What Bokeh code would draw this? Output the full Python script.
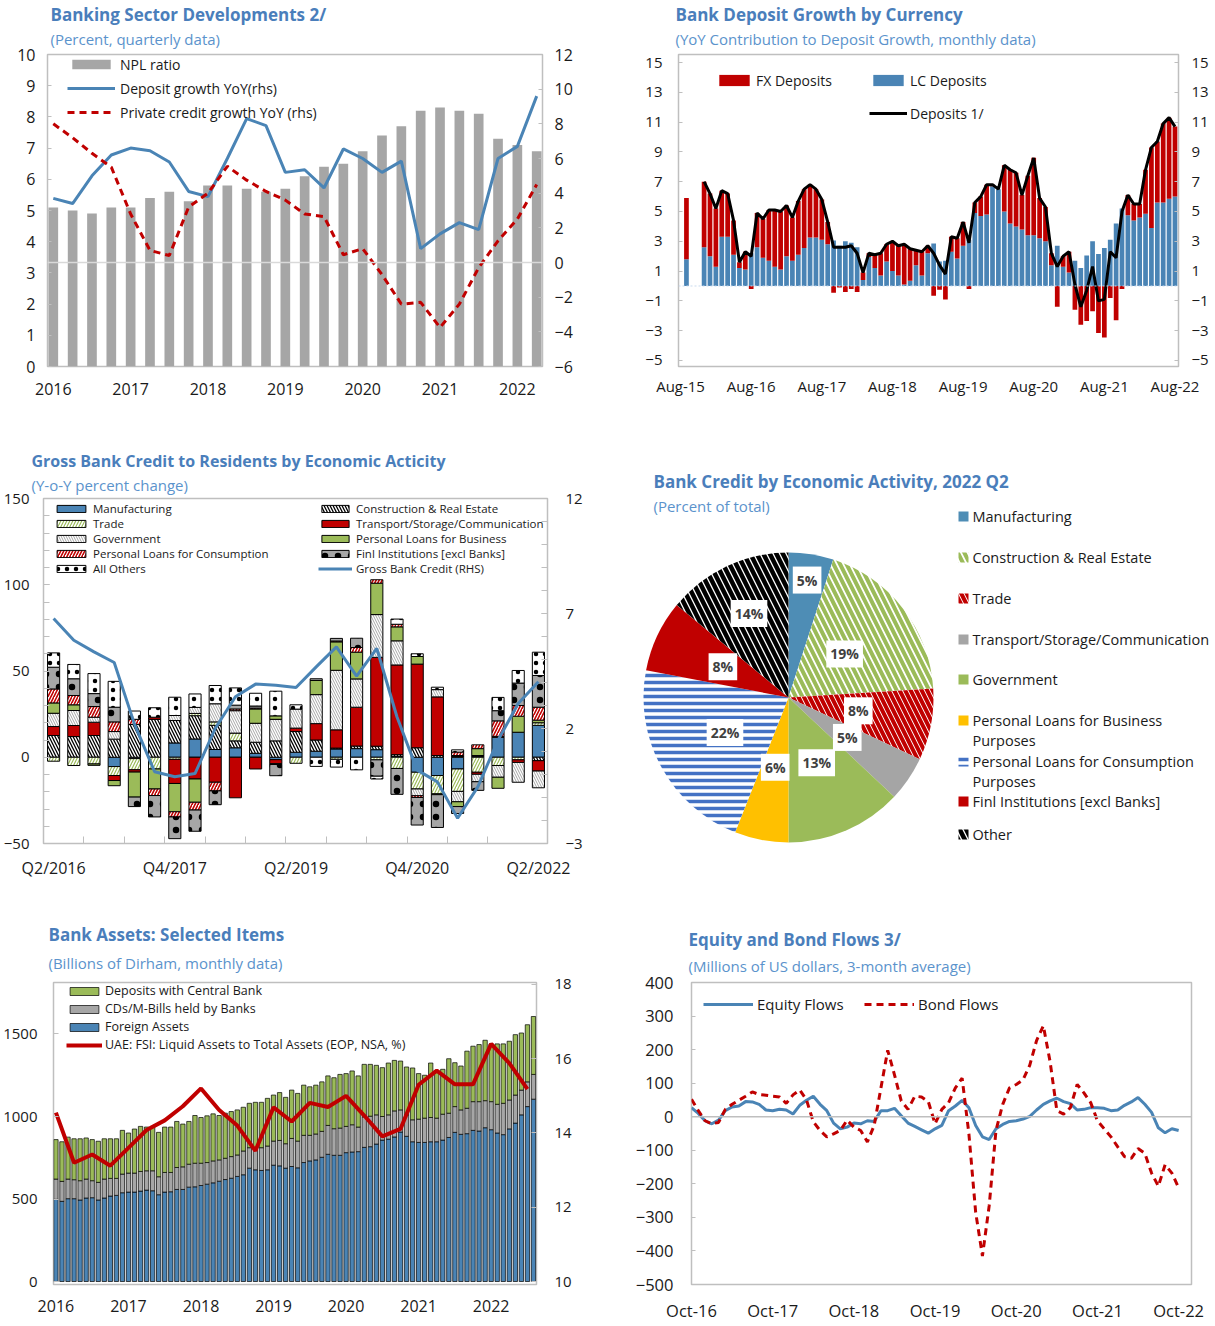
import math
import numpy as np
from bokeh.plotting import figure
from bokeh.layouts import row
from bokeh.models import Range1d, LinearAxis, FixedTicker, Legend, LegendItem, Title, Span
from bokeh.core.properties import value
from bokeh.embed import file_html
from bokeh.resources import INLINE

nan = float("nan")
FONT = "Open Sans"
TITLE_C = "#4A7EBB"
SUB_C = "#5B93CC"
TXT = "#1A1A1A"
BLUE = "#4A84B5"
RED = "#C00000"
GRAY = "#A6A6A6"
GREEN = "#9BBB59"
FRAME = "#BFBFBF"

# ---------------- DATA ----------------
# Panel 1: Banking Sector Developments (quarterly 2016Q1-2022Q2)
p1_years = ["2016", "2017", "2018", "2019", "2020", "2021", "2022"]
npl_ratio = [5.1, 5.0, 4.9, 5.1, 5.1, 5.4, 5.6, 5.3, 5.8, 5.8, 5.7, 5.6, 5.7,
             6.1, 6.4, 6.5, 6.9, 7.4, 7.7, 8.2, 8.3, 8.2, 8.1, 7.3, 7.1, 6.9]
deposit_growth_yoy = [3.7, 3.4, 5.0, 6.2, 6.6, 6.45, 5.8, 4.1, 3.8, 6.0, 8.3, 7.9, 5.2,
                      5.35, 4.3, 6.55, 6.0, 5.2, 5.85, 0.8, 1.65, 2.3, 1.9, 6.0, 6.7, 9.6]
private_credit_yoy = [8.0, 7.2, 6.3, 5.5, 2.8, 0.7, 0.4, 3.2, 4.0, 5.55, 4.75, 4.1, 3.6,
                      2.8, 2.65, 0.45, 0.8, -0.7, -2.4, -2.3, -3.75, -2.4, -0.3, 1.25, 2.5, 4.5]

# Panel 2: Bank deposit growth by currency (monthly, Sep-15 .. Aug-22)
p2_tick_labels = ["Aug-15", "Aug-16", "Aug-17", "Aug-18", "Aug-19", "Aug-20", "Aug-21", "Aug-22"]
lc_deposits = [1.8, nan, nan,
               2.6, 2.0, 1.3, 3.3, 3.3, 2.1, 1.2, 1.1, 2.2, 2.6,
               1.9, 1.7, 1.3, 1.1, 2.0, 1.7, 2.1, 2.55, 3.25, 3.25,
               3.1, 2.8, 3.05, 2.7, 3.0, 2.9, 2.6, 0.4, 1.95, 1.2,
               0.7, 1.65, 1.0, 0.7, 0.1, 0.35, 1.4, 0.7, 2.2, 2.85,
               1.65, 1.7, 2.3, 1.85, 2.7, 3.1, 4.9, 4.7, 4.8, 6.7,
               6.5, 5.0, 4.2, 4.0, 3.8, 3.4, 3.4, 3.2, 3.0, 1.4,
               2.7, 1.3, 0.9, 1.7, 1.2, 2.05, 3.0, 2.15, 2.55, 3.1,
               4.2, 5.2, 4.75, 4.4, 4.6, 4.85, 3.9, 5.6, 5.6, 5.85,
               6.0]
fx_deposits = [4.1, nan, nan,
               4.4, 4.2, 3.9, 3.1, 2.9, 2.3, 0.4, 1.2, -0.2, 2.3,
               2.6, 3.4, 3.8, 3.9, 3.4, 2.9, 3.6, 3.95, 3.55, 3.25,
               2.7, 1.5, -0.45, -0.1, -0.4, -0.2, -0.4, 0.5, 0.25, 0.9,
               1.5, 1.15, 2.0, 2.0, 2.7, 2.15, 1.0, 1.6, 0.5, -0.65,
               -0.25, -0.9, 1.0, 1.35, 1.6, -0.2, 0.7, 1.3, 2.0, 0.1,
               0.0, 3.1, 3.6, 3.6, 2.3, 4.0, 5.2, 2.7, 2.3, 0.8,
               -1.4, 0.7, 1.4, -1.6, -2.6, -2.35, -1.7, -3.15, -3.45, -0.8,
               -2.3, -0.2, 1.35, 1.1, 0.9, 2.95, 5.4, 4.1, 5.3, 5.45,
               4.7]
deposits_total = [nan, nan, nan,
                  7.0, 6.2, 5.2, 6.4, 6.2, 4.4, 1.6, 2.3, 2.0, 4.9,
                  4.5, 5.1, 5.1, 5.0, 5.4, 4.6, 5.7, 6.5, 6.8, 6.5,
                  5.8, 4.3, 2.6, 2.6, 2.6, 2.7, 2.2, 0.9, 2.2, 2.1,
                  2.2, 2.8, 3.0, 2.7, 2.8, 2.5, 2.4, 2.3, 2.7, 2.2,
                  1.4, 0.8, 3.3, 3.2, 4.3, 2.9, 5.6, 6.0, 6.8, 6.8,
                  6.5, 8.1, 7.8, 7.6, 6.1, 7.4, 8.6, 5.9, 5.3, 2.2,
                  1.3, 2.0, 2.3, 0.1, -1.4, -0.3, 1.3, -1.0, -0.9, 2.3,
                  1.9, 5.0, 6.1, 5.5, 5.5, 7.8, 9.3, 9.7, 10.9, 11.3,
                  10.7]

# Panel 3: Gross bank credit by economic activity (Q2/2016 .. Q2/2022)
p3_tick_labels = ["Q2/2016", "Q4/2017", "Q2/2019", "Q4/2020", "Q2/2022"]
c_manufacturing = [0, 0, 0, -5.4, -0.8, 0, 8.3, 10.6, 4.5, 5.5, 2.3, -1.4, 2.9,
                   3.5, 4.8, 5.0, 4.4, 0.5, -8.7, -10.6, -6.8, 0.5, 11.6, 14.5, 18.5]
c_construction = [12.6, 12.0, 12.6, 10.5, 19.0, 22.0, 13.0, 13.5, 14.0, 4.0, 6.4, 9.5, 12.0,
                  6.5, 0.5, 1.5, 2.0, 1.0, 5.5, 1.0, 0.5, 0.5, 0, 0, -2.0]
c_trade = [-2.3, -4.8, -3.9, -5.2, -6.5, -6.8, -1.2, 1.3, 2.0, 4.5, 0, 0, -3.5,
           0, -1.2, 0, -1.5, -6.5, -9.7, -10.6, -13.0, -8.7, -4.8, -1.5, 1.5]
c_transport = [5.2, 6.4, 7.7, -2.9, -1.3, 1.2, -14.0, -12.6, -14.5, -23.5, -6.8, -2.3, 2.0,
               9.5, 10.6, 22.5, 51.5, 52.0, 48.5, 34.0, 0.5, -1.2, 0.5, -1.5, -6.0]
c_government = [7.7, 8.7, 2.9, 4.4, 0, 0, 2.9, 3.5, 10.5, 13.0, 11.0, 12.5, 11.0,
                16.8, 34.5, 16.4, 24.8, 14.0, -3.9, 4.2, -6.0, -4.3, -6.8, -11.5, -9.7]
c_pl_business = [6.0, 3.3, -0.8, -3.0, -14.5, -11.6, -16.4, -13.5, 0, 0, 8.3, 2.0, 0,
                 8.2, 16.5, 15.5, 18.2, 8.1, 4.4, -0.5, -2.8, 4.0, -6.4, 9.3, 1.5]
c_pl_consumption = [8.1, 5.4, 6.2, 5.6, 3.0, -3.8, -3.0, -4.5, -5.0, 1.0, 0.5, -0.5, 0,
                    0, 0.5, 2.7, 2.0, 1.5, -1.0, 0, 2.0, 2.2, 9.0, 6.2, 7.5]
c_finl = [12.6, 9.7, 7.5, 8.5, -5.5, -12.4, -12.6, -12.3, -8.0, 2.2, 1.2, -6.5, 0,
          1.0, 1.5, 5.4, -9.5, -15.0, -16.0, -19.0, -4.0, -5.0, 5.9, 13.0, 18.4]
c_others = [8.3, 8.3, 11.6, 15.0, 4.8, 5.5, 10.6, 7.8, 10.6, 10.0, 7.4, 14.3, 2.5,
            -5.3, -4.5, -7.3, -1.6, 3.0, 1.6, 1.4, 1.3, 0, 7.7, 7.3, 13.5]
gross_bank_credit = [6.78, 5.84, 5.33, 4.87, 2.2, 0.12, -0.1, 0.04, 2.0, 3.38, 3.93, 3.88, 3.78,
                     4.68, 5.55, 4.28, 5.48, 2.5, 0.19, -0.32, -1.9, -0.54, 1.49, 3.09, 4.03]

# Panel 4: Bank credit by economic activity, 2022 Q2 (percent of total)
pie_labels = ["Manufacturing", "Construction & Real Estate", "Trade",
              "Transport/Storage/Communication", "Government",
              "Personal Loans for Business Purposes",
              "Personal Loans for Consumption Purposes",
              "Finl Institutions [excl Banks]", "Other"]
pie_values = [5, 19, 8, 5, 13, 6, 22, 8, 14]

# Panel 5: Bank assets (monthly Jan-16 .. Aug-22), liquid asset ratio (quarterly)
p5_years = ["2016", "2017", "2018", "2019", "2020", "2021", "2022"]
foreign_assets = [498, 486, 502, 502, 494, 506, 508, 494, 506, 518, 522, 538,
                  542, 542, 548, 554, 550, 526, 542, 544, 558, 558, 572, 574,
                  582, 590, 598, 608, 618, 626, 637, 647, 687, 677, 673, 677,
                  705, 701, 687, 697, 689, 721, 731, 737, 753, 771, 765, 765,
                  781, 785, 787, 813, 817, 833, 857, 863, 876, 906, 880, 847,
                  843, 843, 847, 847, 857, 873, 904, 892, 896, 916, 912, 932,
                  920, 900, 890, 925, 960, 1010, 1060, 1105]
cds_mbills = [123, 121, 119, 115, 117, 115, 103, 107, 115, 107, 103, 113,
              115, 115, 119, 117, 121, 109, 119, 117, 133, 137, 139, 143,
              135, 131, 133, 129, 129, 131, 130, 144, 124, 134, 138, 144,
              146, 154, 148, 170, 162, 165, 155, 157, 157, 175, 161, 165,
              159, 165, 149, 185, 185, 177, 143, 147, 158, 134, 130, 133,
              141, 147, 147, 143, 157, 147, 156, 148, 154, 174, 178, 164,
              170, 174, 190, 175, 170, 150, 150, 150]
deposits_cb = [239, 240, 254, 248, 254, 249, 249, 249, 244, 240, 240, 265,
               243, 267, 273, 265, 269, 269, 275, 275, 279, 259, 259, 289,
               277, 283, 285, 269, 273, 273, 273, 265, 269, 275, 275, 289,
               279, 290, 281, 293, 289, 304, 294, 296, 300, 300, 309, 325,
               320, 326, 310, 318, 314, 300, 296, 314, 306, 296, 290, 314,
               276, 260, 330, 276, 272, 330, 266, 266, 346, 336, 346, 366,
               350, 366, 360, 356, 366, 346, 346, 351]
liquid_assets_ratio = [14.55, 13.2, 13.42, 13.12, 13.6, 14.08, 14.34, 14.72, 15.2,
                       14.62, 14.2, 13.52, 14.69, 14.31, 14.81, 14.7, 15.0, 14.47,
                       13.91, 14.11, 15.3, 15.68, 15.31, 15.31, 16.4, 15.88, 15.18]

# Panel 6: Equity and bond flows (monthly Oct-16 .. Oct-22)
p6_tick_labels = ["Oct-16", "Oct-17", "Oct-18", "Oct-19", "Oct-20", "Oct-21", "Oct-22"]
equity_flows = [27, 10, -12, -21, -10, 18, 29, 32, 45, 44, 37, 20, 18, 22, 20, 8, 34, 49, 61,
                37, 18, -19, -36, -31, -19, -21, -12, -14, 18, 18, 25, 3, -19, -29, -39, -49,
                -36, -26, 18, 32, 49, 27, -26, -60, -68, -36, -23, -14, -12, -7, 1, 20, 37,
                47, 55, 45, 39, 20, 22, 27, 27, 25, 18, 20, 34, 44, 57, 37, 13, -33, -48, -36, -41]
bond_flows = [52, 18, -12, -21, -17, 22, 37, 49, 61, 74, 66, 64, 61, 59, 40, 65, 80, 50, -15,
              -41, -60, -51, -41, -10, -31, -41, -75, -26, 86, 198, 125, 47, 22, 61, 59, 45,
              -21, 22, 42, 86, 115, -51, -285, -415, -265, -41, 37, 86, 96, 110, 154, 227, 271,
              164, 18, 8, 27, 96, 71, 42, -12, -36, -60, -90, -119, -124, -95, -109, -168,
              -207, -143, -168, -212]


# ---------------- HELPERS ----------------
def base_fig(w, h, xr, yr, ml, mr, mt, mb):
    p = figure(width=w, height=h, x_range=xr, y_range=yr, output_backend="svg",
               toolbar_location=None, title_location=None, min_border_left=ml,
               min_border_right=mr, min_border_top=mt, min_border_bottom=mb)
    p.xgrid.visible = False
    p.ygrid.visible = False
    p.outline_line_color = FRAME
    p.outline_line_width = 1.5
    p.background_fill_color = "white"
    p.border_fill_color = "white"
    return p


def style_axis(ax, size, standoff, tick_in=0, minor_in=0):
    ax.axis_line_color = None
    ax.major_tick_in = tick_in
    ax.major_tick_out = 0
    ax.major_tick_line_color = FRAME if tick_in else None
    ax.minor_tick_in = minor_in
    ax.minor_tick_out = 0
    ax.minor_tick_line_color = FRAME if minor_in else None
    ax.major_label_text_font = FONT
    ax.major_label_text_font_size = size
    ax.major_label_text_color = TXT
    ax.major_label_standoff = standoff


def add_titles(p, title, subtitle, offset, st_sub, st_title, tfs="17px", sfs="15px"):
    p.add_layout(Title(text=subtitle, align="left", offset=offset, standoff=st_sub,
                       text_font=FONT, text_font_size=sfs, text_font_style="normal",
                       text_color=SUB_C), "above")
    p.add_layout(Title(text=title, align="left", offset=offset, standoff=st_title,
                       text_font=FONT, text_font_size=tfs, text_font_style="bold",
                       text_color=TITLE_C), "above")


def make_legend(items, loc, gw, gh, lh, spacing, fs, standoff=5):
    return Legend(items=items, location=loc, glyph_width=gw, glyph_height=gh,
                  label_height=lh, spacing=spacing, padding=0, margin=0,
                  border_line_color=None, background_fill_alpha=0,
                  label_text_font=FONT, label_text_font_size=fs,
                  label_text_color=TXT, label_standoff=standoff)


# ================= ROW 1 (frames 54..366) =================
x1 = np.arange(len(npl_ratio))
p1 = base_fig(608, 433, Range1d(-0.3, 25.3), Range1d(0, 10), 47, 66, 54, 67)
p1.extra_y_ranges = {"rhs": Range1d(-6, 12)}
r_npl = p1.vbar(x=x1, top=npl_ratio, width=0.5, fill_color=GRAY, line_color=None)
p1.add_layout(Span(location=0, dimension="width", y_range_name="rhs",
                   line_color="#D9D9D9", line_width=1.5))
r_dep = p1.line(x1, deposit_growth_yoy, y_range_name="rhs", line_color=BLUE, line_width=3)
r_pc = p1.line(x1, private_credit_yoy, y_range_name="rhs", line_color=RED, line_width=3,
               line_dash="7 5")
p1.yaxis.ticker = FixedTicker(ticks=list(range(0, 11)))
style_axis(p1.yaxis[0], "16px", 12, tick_in=4)
ax1r = LinearAxis(y_range_name="rhs", ticker=FixedTicker(ticks=list(range(-6, 13, 2))))
style_axis(ax1r, "16px", 12, tick_in=4)
p1.add_layout(ax1r, "right")
p1.xaxis.ticker = FixedTicker(ticks=[4 * i for i in range(len(p1_years))])
p1.xaxis.major_label_overrides = {4 * i: y for i, y in enumerate(p1_years)}
style_axis(p1.xaxis[0], "16px", 16)
add_titles(p1, "Banking Sector Developments 2/", "(Percent, quarterly data)", 3, 11, -8)
p1.add_layout(make_legend([LegendItem(label="NPL ratio", renderers=[r_npl]),
                           LegendItem(label="Deposit growth YoY(rhs)", renderers=[r_dep]),
                           LegendItem(label="Private credit growth YoY (rhs)", renderers=[r_pc])],
                          (20, 244), 48, 12, 20, 4, "14px"))

lc = np.array(lc_deposits, float)
fx = np.array(fx_deposits, float)
tot = np.array(deposits_total, float)
x2 = np.arange(1, 1 + len(lc))
ok = ~np.isnan(lc)
fx_bot = np.where(fx >= 0, lc, 0.0)
fx_top = fx_bot + fx
p2 = base_fig(605, 433, Range1d(-0.35, 84.6), Range1d(-5.403, 15.537), 70, 35, 54, 67)
p2.extra_y_ranges = {"rhs": Range1d(-5.403, 15.537)}
r_lc = p2.vbar(x=x2[ok], bottom=0, top=lc[ok], width=0.8, fill_color=BLUE, line_color=None)
r_fx = p2.vbar(x=x2[ok], bottom=fx_bot[ok], top=fx_top[ok], width=0.8, fill_color=RED,
               line_color=None)
p2.add_layout(Span(location=0, dimension="width", line_color="#C9DAEE", line_width=1,
                   line_dash="2 2"))
r_tot = p2.line(x2, tot, line_color="black", line_width=3)
p2.yaxis.ticker = FixedTicker(ticks=list(range(-5, 16, 2)))
style_axis(p2.yaxis[0], "15px", 16, tick_in=4)
ax2r = LinearAxis(y_range_name="rhs", ticker=FixedTicker(ticks=list(range(-5, 16, 2))))
style_axis(ax2r, "15px", 13, tick_in=4)
p2.add_layout(ax2r, "right")
p2.xaxis.ticker = FixedTicker(ticks=[12 * i for i in range(len(p2_tick_labels))])
p2.xaxis.major_label_overrides = {12 * i: s for i, s in enumerate(p2_tick_labels)}
style_axis(p2.xaxis[0], "15px", 9)
add_titles(p2, "Bank Deposit Growth by Currency",
           "(YoY Contribution to Deposit Growth, monthly data)", -3, 11, -8)
p2.add_layout(make_legend([LegendItem(label="FX Deposits", renderers=[r_fx])], (37, 276),
                          38, 14, 20, 0, "14px", 3))
p2.add_layout(make_legend([LegendItem(label="LC Deposits", renderers=[r_lc])], (191, 276),
                          38, 14, 20, 0, "14px", 3))
p2.add_layout(make_legend([LegendItem(label="Deposits 1/", renderers=[r_tot])], (191, 243),
                          38, 14, 20, 0, "14px", 3))

# ================= ROW 2 (frames 498..843) =================
x3 = np.arange(len(gross_bank_credit))
p3 = base_fig(608, 465, Range1d(-0.5, 24.45), Range1d(-50, 150), 42, 61, 65, 55)
p3.extra_y_ranges = {"rhs": Range1d(-3, 12)}
styles = {
    "Manufacturing": dict(fill_color=BLUE),
    "Construction & Real Estate": dict(fill_color="white", hatch_pattern="\\", hatch_color="black",
                                       hatch_scale=6, hatch_weight=1.3),
    "Trade": dict(fill_color="white", hatch_pattern="/", hatch_color=GREEN, hatch_scale=6,
                  hatch_weight=1.2),
    "Transport/Storage/Communication": dict(fill_color=RED),
    "Government": dict(fill_color="white", hatch_pattern="\\", hatch_color=GRAY, hatch_scale=5,
                       hatch_weight=1),
    "Personal Loans for Business": dict(fill_color=GREEN),
    "Personal Loans for Consumption": dict(fill_color="white", hatch_pattern="/", hatch_color=RED,
                                           hatch_scale=6, hatch_weight=1.6),
    "Finl Institutions [excl Banks]": dict(fill_color=GRAY, hatch_pattern=".", hatch_color="black",
                                           hatch_scale=13, hatch_weight=3),
    "All Others": dict(fill_color="white", hatch_pattern=".", hatch_color="black", hatch_scale=9,
                       hatch_weight=1.5),
}
series3 = [("Manufacturing", c_manufacturing), ("Construction & Real Estate", c_construction),
           ("Trade", c_trade), ("Transport/Storage/Communication", c_transport),
           ("Government", c_government), ("Personal Loans for Business", c_pl_business),
           ("Personal Loans for Consumption", c_pl_consumption),
           ("Finl Institutions [excl Banks]", c_finl), ("All Others", c_others)]
pos = np.zeros(len(x3))
neg = np.zeros(len(x3))
rend3 = {}
for name, vals in series3:
    v = np.array(vals, float)
    bottom = np.where(v >= 0, pos, neg + v)
    top = np.where(v >= 0, pos + v, neg)
    pos = pos + np.clip(v, 0, None)
    neg = neg + np.clip(v, None, 0)
    nz = v != 0
    rend3[name] = p3.vbar(x=x3[nz], bottom=bottom[nz], top=top[nz], width=0.6,
                          line_color="black", line_width=1, **styles[name])
r_gross = p3.line(x3, gross_bank_credit, y_range_name="rhs", line_color=BLUE, line_width=3)
p3.yaxis.ticker = FixedTicker(ticks=[-50, 0, 50, 100, 150], minor_ticks=list(range(-50, 151, 10)))
style_axis(p3.yaxis[0], "15px", 14, tick_in=6, minor_in=6)
ax3r = LinearAxis(y_range_name="rhs", ticker=FixedTicker(ticks=[-3, 2, 7, 12],
                                                         minor_ticks=list(range(-3, 13))))
style_axis(ax3r, "15px", 18, tick_in=6, minor_in=6)
p3.add_layout(ax3r, "right")
p3.xaxis.ticker = FixedTicker(ticks=[6 * i for i in range(len(p3_tick_labels))],
                              minor_ticks=[1.5 + 2 * i for i in range(11)])
p3.xaxis.major_label_overrides = {6 * i: s for i, s in enumerate(p3_tick_labels)}
style_axis(p3.xaxis[0], "16px", 13, tick_in=0, minor_in=7)
add_titles(p3, "Gross Bank Credit to Residents by Economic Acticity", "(Y-o-Y percent change)",
           -12, 8, -6, tfs="16px")
left_names = ["Manufacturing", "Trade", "Government", "Personal Loans for Consumption", "All Others"]
right_names = ["Construction & Real Estate", "Transport/Storage/Communication",
               "Personal Loans for Business", "Finl Institutions [excl Banks]"]
p3.add_layout(make_legend([LegendItem(label=n, renderers=[rend3[n]]) for n in left_names],
                          (10, 267), 36, 9, 13, -2, "11.5px", 4))
p3.add_layout(make_legend([LegendItem(label=n, renderers=[rend3[n]]) for n in right_names] +
                          [LegendItem(label="Gross Bank Credit (RHS)", renderers=[r_gross])],
                          (275, 267), 34, 9, 13, -2, "11.5px", 4))

# pie panel: frame = whole width, rows 498..843 (data y = 843 - page y)
p4 = figure(width=605, height=465, x_range=Range1d(0, 605), y_range=Range1d(0, 345),
            output_backend="svg", toolbar_location=None, title_location=None,
            min_border_left=0, min_border_right=0, min_border_top=65, min_border_bottom=55,
            x_axis_location=None, y_axis_location=None)
p4.grid.visible = False
p4.outline_line_color = None
pie_styles = [
    dict(fill_color="#4E8DB5"),
    dict(fill_color="white", hatch_pattern="\\", hatch_color=GREEN, hatch_scale=13, hatch_weight=4),
    dict(fill_color="white", hatch_pattern="\\", hatch_color=RED, hatch_scale=11, hatch_weight=4),
    dict(fill_color="#A5A5A5"),
    dict(fill_color=GREEN),
    dict(fill_color="#FFC000"),
    dict(fill_color="white", hatch_pattern="-", hatch_color="#4472C4", hatch_scale=7, hatch_weight=3.5),
    dict(fill_color=RED),
    dict(fill_color="white", hatch_pattern="\\", hatch_color="black", hatch_scale=13, hatch_weight=4.5),
]
label_r = [0.82, 0.49, 0.49, 0.49, 0.49, 0.49, 0.5, 0.5, 0.64]
cx, cy, R = 180, 146, 145
tot_pie = float(sum(pie_values))
cum = np.concatenate([[0.0], np.cumsum(pie_values)]) / tot_pie * 2 * math.pi
lx, ly, lt = [], [], []
for k, v in enumerate(pie_values):
    p4.wedge(x=cx, y=cy, radius=R, start_angle=math.pi / 2 - cum[k],
             end_angle=math.pi / 2 - cum[k + 1], direction="clock", line_color=None,
             **pie_styles[k])
    mid = (cum[k] + cum[k + 1]) / 2
    lx.append(cx + label_r[k] * R * math.sin(mid))
    ly.append(cy + label_r[k] * R * math.cos(mid))
    lt.append(f"{v}%")
p4.text(x=lx, y=ly, text=lt, text_align="center", text_baseline="middle",
        text_font=value(FONT), text_font_size="14px", text_font_style="bold",
        text_color="#404040", background_fill_color="white", padding=4)
p4.add_layout(Title(text="Bank Credit by Economic Activity, 2022 Q2", align="left", offset=45,
                    standoff=11, text_font=FONT, text_font_size="17px", text_font_style="bold",
                    text_color=TITLE_C), "above")
p4.text(x=[45], y=[338], text=["(Percent of total)"], text_baseline="middle",
        text_font=value(FONT), text_font_size="15px", text_color=SUB_C)
leg_rows = [327, 286, 245, 204, 164, 123, 82, 42, 9]
tx, ty, tt = [], [], []
for k, name in enumerate(pie_labels):
    p4.rect(x=355, y=leg_rows[k], width=10, height=10, line_color=None, **pie_styles[k])
    if name.endswith(" Purposes"):
        tx += [364, 364]
        ty += [leg_rows[k], leg_rows[k] - 20]
        tt += [name[:-len(" Purposes")], "Purposes"]
    else:
        tx.append(364)
        ty.append(leg_rows[k])
        tt.append(name)
p4.text(x=tx, y=ty, text=tt, text_baseline="middle", text_font=value(FONT),
        text_font_size="14.5px", text_color=TXT)

# ================= ROW 3 (frames 982..1288) =================
fa = np.array(foreign_assets, float)
cd = np.array(cds_mbills, float)
dc = np.array(deposits_cb, float)
x5 = np.arange(len(fa))
p5 = base_fig(608, 426, Range1d(-0.4, 79.5), Range1d(-18, 1812), 52, 72, 84, 36)
p5.extra_y_ranges = {"rhs": Range1d(9.92, 18.053)}
r_fa = p5.vbar(x=x5, bottom=0, top=fa, width=0.72, fill_color=BLUE, line_color="black",
               line_width=0.7)
r_cd = p5.vbar(x=x5, bottom=fa, top=fa + cd, width=0.72, fill_color=GRAY, line_color="black",
               line_width=0.7)
r_dc = p5.vbar(x=x5, bottom=fa + cd, top=fa + cd + dc, width=0.72, fill_color=GREEN,
               line_color="black", line_width=0.7)
x5q = [3 * i for i in range(len(liquid_assets_ratio))]
r_liq = p5.line(x5q, liquid_assets_ratio, y_range_name="rhs", line_color=RED, line_width=4)
p5.yaxis.ticker = FixedTicker(ticks=[0, 500, 1000, 1500])
style_axis(p5.yaxis[0], "15px", 16, tick_in=5)
ax5r = LinearAxis(y_range_name="rhs", ticker=FixedTicker(ticks=[10, 12, 14, 16, 18]))
style_axis(ax5r, "15px", 18, tick_in=5)
p5.add_layout(ax5r, "right")
p5.xaxis.ticker = FixedTicker(ticks=[12 * i for i in range(len(p5_years))])
p5.xaxis.major_label_overrides = {12 * i: y for i, y in enumerate(p5_years)}
style_axis(p5.xaxis[0], "16px", 15)
add_titles(p5, "Bank Assets: Selected Items", "(Billions of Dirham, monthly data)", -5, 20, -10)
p5.add_layout(make_legend([LegendItem(label="Deposits with Central Bank", renderers=[r_dc]),
                           LegendItem(label="CDs/M-Bills held by Banks", renderers=[r_cd]),
                           LegendItem(label="Foreign Assets", renderers=[r_fa]),
                           LegendItem(label="UAE: FSI: Liquid Assets to Total Assets (EOP, NSA, %)",
                                      renderers=[r_liq])],
                          (13, 231), 36, 10, 15, 1, "12.5px", 3))

x6 = np.arange(len(equity_flows))
p6 = base_fig(605, 426, Range1d(0, 73.9), Range1d(-500, 400), 83, 22, 84, 36)
p6.add_layout(Span(location=0, dimension="width", line_color="#BFBFBF", line_width=1.5))
r_eq = p6.line(x6, equity_flows, line_color=BLUE, line_width=3)
r_bd = p6.line(x6, bond_flows, line_color=RED, line_width=3, line_dash="7 5")
p6.yaxis.ticker = FixedTicker(ticks=list(range(-500, 401, 100)))
style_axis(p6.yaxis[0], "16.5px", 18, tick_in=4)
p6.xaxis.ticker = FixedTicker(ticks=[12 * i for i in range(len(p6_tick_labels))])
p6.xaxis.major_label_overrides = {12 * i: s for i, s in enumerate(p6_tick_labels)}
style_axis(p6.xaxis[0], "16.5px", 14)
add_titles(p6, "Equity and Bond Flows 3/", "(Millions of US dollars, 3-month average)", -3, 14, -9)
p6.add_layout(make_legend([LegendItem(label="Equity Flows", renderers=[r_eq])], (12, 270),
                          50, 14, 20, 0, "15px", 4))
p6.add_layout(make_legend([LegendItem(label="Bond Flows", renderers=[r_bd])], (173, 270),
                          50, 14, 20, 0, "15px", 4))

rows = [row(p1, p2), row(p3, p4), row(p5, p6)]
open("out.html", "w").write(file_html(rows, INLINE))
